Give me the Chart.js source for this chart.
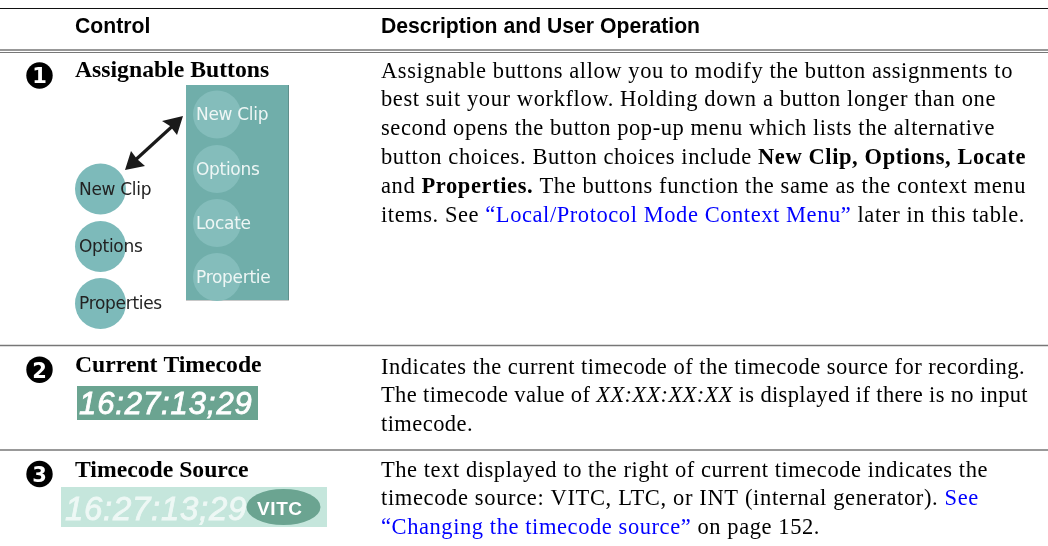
<!DOCTYPE html>
<html>
<head>
<meta charset="utf-8">
<style>
  html, body { margin: 0; padding: 0; background: #fff; }
  canvas { display: block; }
</style>
<script src="https://cdn.jsdelivr.net/npm/chart.js@4/dist/chart.umd.min.js"></script>
</head>
<body>
<canvas id="myChart" width="1048" height="546"></canvas>
<script>
// table text
const headers = ['Control', 'Description and User Operation'];
const controlNames = ['Assignable Buttons', 'Current Timecode', 'Timecode Source'];
const calloutDigits = ['1', '2', '3'];
const leftButtons = ['New Clip', 'Options', 'Properties'];
const panelButtons = ['New Clip', 'Options', 'Locate', 'Propertie'];
const timecode = '16:27:13;29';
const sourceLabel = 'VITC';

// description lines as [text, style] runs
const row1Lines = [
  [['Assignable buttons allow you to modify the button assignments to', 'n']],
  [['best suit your workflow. Holding down a button longer than one', 'n']],
  [['second opens the button pop-up menu which lists the alternative', 'n']],
  [['button choices. Button choices include ', 'n'], ['New Clip, Options, Locate', 'b']],
  [['and ', 'n'], ['Properties.', 'b'], [' The buttons function the same as the context menu', 'n']],
  [['items. See ', 'n'], ['\u201CLocal/Protocol Mode Context Menu\u201D', 'a'], [' later in this table.', 'n']],
];
const row2Lines = [
  [['Indicates the current timecode of the timecode source for recording.', 'n']],
  [['The timecode value of ', 'n'], ['XX:XX:XX:XX', 'i'], [' is displayed if there is no input', 'n']],
  [['timecode.', 'n']],
];
const row3Lines = [
  [['The text displayed to the right of current timecode indicates the', 'n']],
  [['timecode source: VITC, LTC, or INT (internal generator). ', 'n'], ['See', 'a']],
  [['\u201CChanging the timecode source\u201D', 'a'], [' on page 152.', 'n']],
];

// layout: baseline y and right edge of each description line
const row1Base = [77.5, 106, 135, 164, 193, 222];
const row1Ends = [1013, 996, 995, 1026, 1026, 1025];
const row2Base = [373.5, 402, 430.5];
const row2Ends = [1025, 1028, 473];
const row3Base = [476.5, 505, 533.5];
const row3Ends = [988, 979, 820];

const serif = '"Liberation Serif"';
const sans = '"Liberation Sans"';
const runFonts = {
  n: '22.5px ' + serif,
  b: 'bold 22.5px ' + serif,
  i: 'italic 22.5px ' + serif,
  a: '22.5px ' + serif,
};

const line = (x1, y1, x2, y2, color, width) => ({
  type: 'line',
  data: [{ x: x1, y: y1 }, { x: x2, y: y2 }],
  borderColor: color,
  borderWidth: width,
  pointRadius: 0,
});
const shape = (pts, color) => ({
  type: 'line',
  data: pts.concat([pts[0]]).map(p => ({ x: p[0], y: p[1] })),
  borderWidth: 0,
  backgroundColor: color,
  fill: 'shape',
  pointRadius: 0,
});
const rect = (x1, y1, x2, y2, color) => shape([[x1, y1], [x2, y1], [x2, y2], [x1, y2]], color);
const dots = (pts, r, color) => ({
  type: 'scatter',
  data: pts.map(p => ({ x: p[0], y: p[1] })),
  backgroundColor: color,
  borderWidth: 0,
  pointRadius: r,
});

const tablePlugin = {
  id: 'tableText',
  afterDatasetsDraw(chart) {
    const { ctx, scales } = chart;
    const X = v => scales.x.getPixelForValue(v);
    const Y = v => scales.y.getPixelForValue(v);
    const put = (text, x, y, font, color) => {
      ctx.font = font;
      ctx.fillStyle = color;
      ctx.fillText(text, X(x), Y(y));
    };
    ctx.save();
    ctx.textBaseline = 'alphabetic';
    ctx.textAlign = 'left';

    put(headers[0], 75, 33, 'bold 21.2px ' + sans, '#000');
    put(headers[1], 381, 33, 'bold 21.2px ' + sans, '#000');

    put(controlNames[0], 75, 77, 'bold 23.7px ' + serif, '#000');
    put(controlNames[1], 75, 372, 'bold 23.7px ' + serif, '#000');
    put(controlNames[2], 75, 477, 'bold 23.7px ' + serif, '#000');

    // description lines, spaced to end where the reference lines end
    const drawLines = (lines, bases, ends) => {
      lines.forEach((runs, i) => {
        ctx.letterSpacing = '0px';
        let natural = 0;
        let chars = 0;
        runs.forEach(r => {
          ctx.font = runFonts[r[1]];
          natural += ctx.measureText(r[0]).width;
          chars += r[0].length;
        });
        const extra = (ends[i] - 381 - natural) / chars;
        ctx.letterSpacing = extra.toFixed(3) + 'px';
        let x = 381;
        runs.forEach(r => {
          ctx.font = runFonts[r[1]];
          ctx.fillStyle = r[1] === 'a' ? '#0000ff' : '#000';
          ctx.fillText(r[0], x, Y(bases[i]));
          x += ctx.measureText(r[0]).width;
        });
      });
      ctx.letterSpacing = '0px';
    };
    drawLines(row1Lines, row1Base, row1Ends);
    drawLines(row2Lines, row2Base, row2Ends);
    drawLines(row3Lines, row3Base, row3Ends);

    // callout digits
    ctx.textAlign = 'center';
    const digitFont = 'bold 21px "DejaVu Sans"';
    put(calloutDigits[0], 39.5, 83, digitFont, '#fff');
    put(calloutDigits[1], 39.5, 377.5, digitFont, '#fff');
    put(calloutDigits[2], 39.5, 482, digitFont, '#fff');
    ctx.textAlign = 'left';

    // button labels
    const btnFont = '17px "DejaVu Sans"';
    ctx.letterSpacing = '-0.3px';
    put(leftButtons[0], 79, 195, btnFont, '#222');
    put(leftButtons[1], 79, 252, btnFont, '#222');
    put(leftButtons[2], 79, 309, btnFont, '#222');
    put(panelButtons[0], 196, 120, btnFont, '#eef6f5');
    put(panelButtons[1], 196, 175, btnFont, '#eef6f5');
    put(panelButtons[2], 196, 229, btnFont, '#eef6f5');
    put(panelButtons[3], 196, 283, btnFont, '#eef6f5');
    ctx.letterSpacing = '0px';

    // timecode displays, regular italic thickened a little
    ctx.lineWidth = 0.8;
    ctx.letterSpacing = '0.9px';
    ctx.strokeStyle = '#fff';
    put(timecode, 79, 414, 'italic 31px ' + sans, '#fff');
    ctx.strokeText(timecode, X(79), Y(414));
    ctx.letterSpacing = '0.7px';
    ctx.strokeStyle = '#eef8f5';
    put(timecode, 65, 520, 'italic 33px ' + sans, '#eef8f5');
    ctx.strokeText(timecode, X(65), Y(520));
    ctx.letterSpacing = '0px';

    // source oval sits on top of the pale bar
    ctx.fillStyle = '#6ba491';
    ctx.beginPath();
    ctx.ellipse(X(283.5), Y(507), 37, 18, 0, 0, Math.PI * 2);
    ctx.fill();
    ctx.letterSpacing = '0.6px';
    put(sourceLabel, 257, 515, 'bold 19px ' + sans, '#fff');
    ctx.restore();
  },
};

// listed bottom layer first, Chart.js paints the first dataset last
const layers = [
  rect(61, 487, 327, 527, '#c5e6dc'),
  rect(77, 386, 258, 420, '#6ba491'),

  rect(186, 300, 289, 301, '#c8c8c8'),
  rect(288, 85, 289, 300, '#5f8f8b'),
  rect(186, 85, 288, 300, '#70aeaa'),
  dots([[217, 114.5], [217, 169], [217, 223], [217, 277]], 24, '#84bdbb'),
  dots([[100.5, 189], [100.5, 246.5], [100.5, 303.5]], 25.5, '#7dbaba'),

  // double arrow
  line(131, 164, 177, 122, '#1a1a1a', 3.2),
  shape([[183, 116], [162, 121], [170, 126], [177, 135]], '#1a1a1a'),
  shape([[125, 170], [131, 151], [137, 159], [145, 166]], '#1a1a1a'),

  dots([[39.5, 75.5], [39.5, 369.7], [39.5, 474]], 13.2, '#000'),

  line(0, 8.5, 1048, 8.5, '#111', 1.2),
  line(0, 50, 1048, 50, '#333', 1.2),
  line(0, 52.5, 1048, 52.5, '#777', 1.2),
  line(0, 345.5, 1048, 345.5, '#777', 1.5),
  line(0, 450, 1048, 450, '#777', 1.5),
];

new Chart(document.getElementById('myChart'), {
  data: { datasets: layers.reverse() },
  options: {
    responsive: false,
    animation: false,
    layout: { padding: 0, autoPadding: false },
    plugins: { legend: { display: false }, tooltip: { enabled: false } },
    scales: {
      x: { type: 'linear', min: 0, max: 1048, display: false },
      y: { type: 'linear', min: 0, max: 546, reverse: true, display: false },
    },
  },
  plugins: [tablePlugin],
});
</script>
</body>
</html>
